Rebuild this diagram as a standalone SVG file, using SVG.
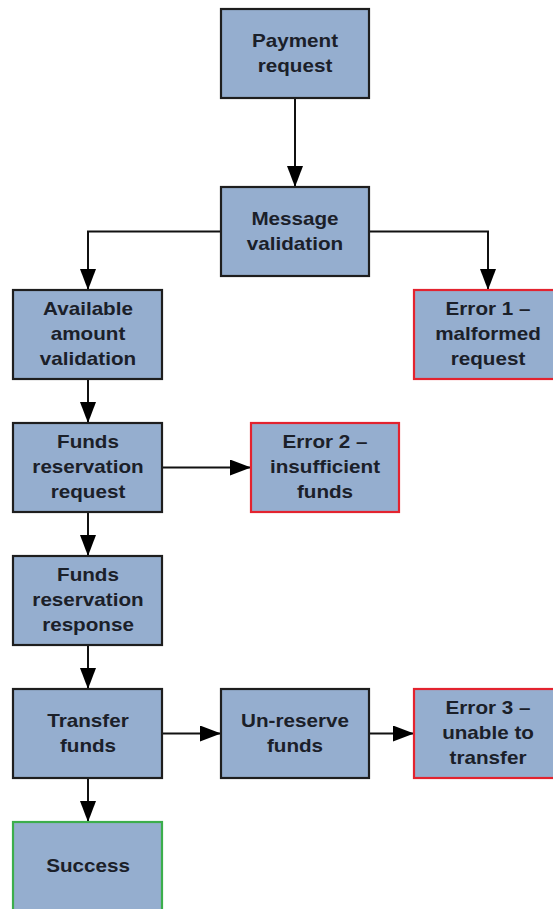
<svg xmlns="http://www.w3.org/2000/svg" width="553" height="909" viewBox="0 0 553 909">
<style>
.box{fill:#95aecf;stroke:#1e1e1e;stroke-width:2.2}
.err{fill:#95aecf;stroke:#e3232f;stroke-width:2.2}
.ok{fill:#95aecf;stroke:#3cae4c;stroke-width:2.2}
text{font-family:"Liberation Sans",Arial,sans-serif;font-weight:bold;font-size:17.5px;fill:#1b2029;text-anchor:middle}
.conn path{fill:none;stroke:#111;stroke-width:2}
</style>
<defs>
<marker id="ah" markerUnits="userSpaceOnUse" markerWidth="22" markerHeight="16" refX="21" refY="8" orient="auto">
<path d="M0,0 L21,8 L0,16 z" fill="#000"/>
</marker>
</defs>
<rect width="553" height="909" fill="#fff"/>
<g class="conn">
<path d="M295,98 V187" marker-end="url(#ah)"/>
<path d="M221,231.5 H88 V290" marker-end="url(#ah)"/>
<path d="M369,231.5 H488 V290" marker-end="url(#ah)"/>
<path d="M88,379 V423" marker-end="url(#ah)"/>
<path d="M162,467.5 H251" marker-end="url(#ah)"/>
<path d="M88,512 V556" marker-end="url(#ah)"/>
<path d="M88,645 V689" marker-end="url(#ah)"/>
<path d="M162,733.5 H221" marker-end="url(#ah)"/>
<path d="M369,733.5 H414" marker-end="url(#ah)"/>
<path d="M88,778 V822" marker-end="url(#ah)"/>
</g>
<g id="payment">
<rect class="box" x="221" y="9" width="148" height="89"/>
<text transform="translate(295,47) scale(1.18,1)">Payment</text>
<text transform="translate(295,71.5) scale(1.18,1)">request</text>
</g>
<g id="message">
<rect class="box" x="221" y="187" width="148" height="89"/>
<text transform="translate(295,225) scale(1.18,1)">Message</text>
<text transform="translate(295,249.5) scale(1.18,1)">validation</text>
</g>
<g id="available">
<rect class="box" x="13" y="290" width="149" height="89"/>
<text transform="translate(88,315) scale(1.18,1)">Available</text>
<text transform="translate(88,340) scale(1.18,1)">amount</text>
<text transform="translate(88,365) scale(1.18,1)">validation</text>
</g>
<g id="error1">
<rect class="err" x="414" y="290" width="148" height="89"/>
<text transform="translate(488,315) scale(1.18,1)">Error 1 –</text>
<text transform="translate(488,340) scale(1.18,1)">malformed</text>
<text transform="translate(488,365) scale(1.18,1)">request</text>
</g>
<g id="fundsreq">
<rect class="box" x="13" y="423" width="149" height="89"/>
<text transform="translate(88,448) scale(1.18,1)">Funds</text>
<text transform="translate(88,473) scale(1.18,1)">reservation</text>
<text transform="translate(88,498) scale(1.18,1)">request</text>
</g>
<g id="error2">
<rect class="err" x="251" y="423" width="148" height="89"/>
<text transform="translate(325,448) scale(1.18,1)">Error 2 –</text>
<text transform="translate(325,473) scale(1.18,1)">insufficient</text>
<text transform="translate(325,498) scale(1.18,1)">funds</text>
</g>
<g id="fundsresp">
<rect class="box" x="13" y="556" width="149" height="89"/>
<text transform="translate(88,581) scale(1.18,1)">Funds</text>
<text transform="translate(88,606) scale(1.18,1)">reservation</text>
<text transform="translate(88,631) scale(1.18,1)">response</text>
</g>
<g id="transfer">
<rect class="box" x="13" y="689" width="149" height="89"/>
<text transform="translate(88,727) scale(1.18,1)">Transfer</text>
<text transform="translate(88,751.5) scale(1.18,1)">funds</text>
</g>
<g id="unreserve">
<rect class="box" x="221" y="689" width="148" height="89"/>
<text transform="translate(295,727) scale(1.18,1)">Un-reserve</text>
<text transform="translate(295,751.5) scale(1.18,1)">funds</text>
</g>
<g id="error3">
<rect class="err" x="414" y="689" width="148" height="89"/>
<text transform="translate(488,714) scale(1.18,1)">Error 3 –</text>
<text transform="translate(488,739) scale(1.18,1)">unable to</text>
<text transform="translate(488,764) scale(1.18,1)">transfer</text>
</g>
<g id="success">
<rect class="ok" x="13" y="822" width="149" height="89"/>
<text transform="translate(88,872) scale(1.18,1)">Success</text>
</g>
</svg>
